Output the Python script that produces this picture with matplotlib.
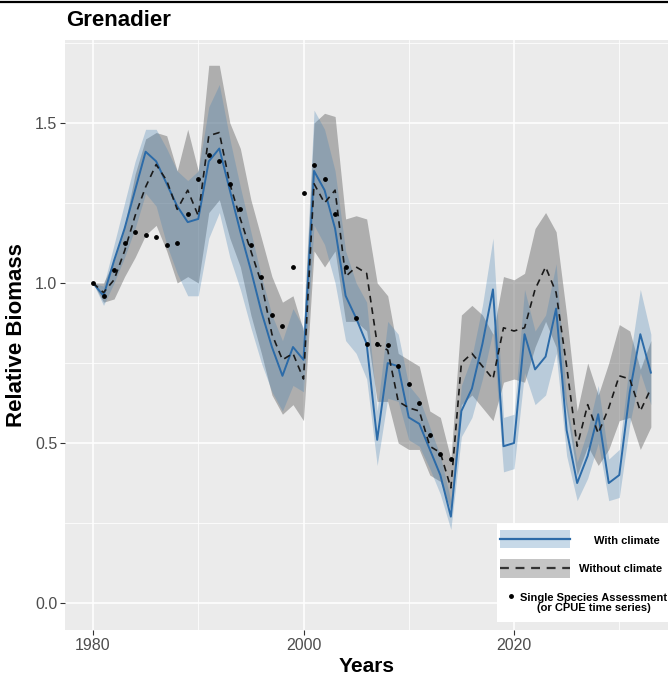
import matplotlib
matplotlib.use('Agg')
import matplotlib.pyplot as plt
from matplotlib.lines import Line2D
from matplotlib.patches import Rectangle
from matplotlib.ticker import MultipleLocator

plt.rcParams['font.family'] = ['Liberation Sans', 'DejaVu Sans']

# ---------------- data ----------------
years = list(range(1980, 2034))

with_climate = [
    1.00, 0.96, 1.07, 1.17, 1.29, 1.41, 1.38, 1.31, 1.24, 1.19,
    1.20, 1.38, 1.42, 1.29, 1.16, 1.04, 0.91, 0.80, 0.71, 0.80,
    0.76, 1.35, 1.29, 1.17, 0.96, 0.89, 0.81, 0.51, 0.75, 0.74,
    0.58, 0.56, 0.48, 0.40, 0.27, 0.60, 0.67, 0.81, 0.98, 0.49,
    0.50, 0.84, 0.73, 0.77, 0.92, 0.54, 0.375, 0.46, 0.59, 0.375,
    0.40, 0.66, 0.84, 0.72,
]
with_lo = [
    1.00, 0.93, 1.00, 1.08, 1.17, 1.28, 1.24, 1.12, 1.03, 0.96,
    0.96, 1.14, 1.22, 1.08, 0.98, 0.86, 0.75, 0.66, 0.60, 0.68,
    0.66, 1.18, 1.12, 1.00, 0.82, 0.78, 0.70, 0.43, 0.64, 0.63,
    0.51, 0.49, 0.42, 0.34, 0.23, 0.52, 0.58, 0.70, 0.85, 0.41,
    0.42, 0.72, 0.62, 0.65, 0.78, 0.46, 0.32, 0.39, 0.50, 0.32,
    0.33, 0.56, 0.72, 0.62,
]
with_hi = [
    1.00, 0.99, 1.12, 1.25, 1.38, 1.48, 1.48, 1.42, 1.35, 1.32,
    1.35, 1.55, 1.62, 1.45, 1.30, 1.16, 1.02, 0.90, 0.82, 0.92,
    0.86, 1.54, 1.48, 1.35, 1.10, 1.00, 0.94, 0.60, 0.88, 0.84,
    0.68, 0.64, 0.55, 0.46, 0.32, 0.68, 0.77, 0.93, 1.14, 0.58,
    0.59, 0.98, 0.85, 0.90, 1.06, 0.63, 0.44, 0.54, 0.68, 0.45,
    0.48, 0.76, 0.98, 0.84,
]

without_climate = [
    1.00, 0.97, 1.01, 1.10, 1.21, 1.30, 1.37, 1.32, 1.23, 1.29,
    1.21, 1.46, 1.47, 1.31, 1.20, 1.10, 1.00, 0.84, 0.76, 0.78,
    0.70, 1.31, 1.25, 1.29, 1.02, 1.05, 1.03, 0.81, 0.79, 0.63,
    0.61, 0.60, 0.49, 0.47, 0.36, 0.75, 0.78, 0.74, 0.70, 0.86,
    0.85, 0.86, 0.98, 1.05, 0.97, 0.74, 0.49, 0.62, 0.53, 0.61,
    0.71, 0.70, 0.60, 0.67,
]
without_lo = [
    1.00, 0.94, 0.95, 1.02, 1.08, 1.15, 1.18, 1.10, 1.00, 1.02,
    1.00, 1.22, 1.26, 1.14, 1.05, 0.90, 0.78, 0.65, 0.59, 0.62,
    0.57, 1.10, 1.05, 1.10, 0.88, 0.88, 0.85, 0.63, 0.63, 0.50,
    0.48, 0.48, 0.40, 0.38, 0.29, 0.62, 0.65, 0.61, 0.57, 0.69,
    0.70, 0.69, 0.80, 0.88, 0.80, 0.60, 0.40, 0.49, 0.43, 0.48,
    0.57, 0.58, 0.48, 0.55,
]
without_hi = [
    1.00, 1.00, 1.07, 1.18, 1.34, 1.45, 1.47, 1.46, 1.35, 1.48,
    1.35, 1.68, 1.68, 1.50, 1.42, 1.26, 1.14, 1.02, 0.94, 0.96,
    0.85, 1.50, 1.53, 1.52, 1.20, 1.21, 1.20, 1.00, 0.96, 0.78,
    0.76, 0.74, 0.60, 0.58, 0.45, 0.90, 0.93, 0.90, 0.84, 1.02,
    1.01, 1.03, 1.17, 1.22, 1.16, 0.90, 0.60, 0.75, 0.65, 0.75,
    0.87, 0.85, 0.73, 0.82,
]

ssa_years = list(range(1980, 2015))
ssa_values = [
    1.00, 0.96, 1.04, 1.125, 1.16, 1.15, 1.145, 1.12, 1.125, 1.215,
    1.325, 1.40, 1.38, 1.31, 1.23, 1.12, 1.02, 0.90, 0.865, 1.05,
    1.28, 1.37, 1.325, 1.215, 1.05, 0.89, 0.81, 0.81, 0.805, 0.74,
    0.685, 0.625, 0.525, 0.465, 0.45,
]

# ---------------- style ----------------
blue_line = '#2C6BA8'
blue_fill = '#4682B4'
grey_fill = '#5A5A5A'
panel_bg = '#EBEBEB'
tick_col = '#4D4D4D'

fig = plt.figure(figsize=(6.68, 6.75), dpi=100)
ax = fig.add_axes([65 / 668, 45 / 675, 603 / 668, 590 / 675])
ax.set_facecolor(panel_bg)

ax.fill_between(years, without_lo, without_hi, color=grey_fill, alpha=0.42,
                linewidth=0, zorder=2)
ax.fill_between(years, with_lo, with_hi, color=blue_fill, alpha=0.30,
                linewidth=0, zorder=3)
ax.plot(years, with_climate, color=blue_line, lw=1.4, zorder=4)
ax.plot(years, without_climate, color='#1A1A1A', lw=1.2, dashes=(4, 3),
        zorder=5)
ax.scatter(ssa_years, ssa_values, s=6, color='black', zorder=6)

ax.set_xlim(1977.34, 2034.63)
ax.set_ylim(-0.084, 1.759)
ax.xaxis.set_major_locator(MultipleLocator(20))
ax.xaxis.set_minor_locator(MultipleLocator(10))
ax.yaxis.set_major_locator(MultipleLocator(0.5))
ax.yaxis.set_minor_locator(MultipleLocator(0.25))
ax.yaxis.set_major_formatter(matplotlib.ticker.FormatStrFormatter('%.1f'))
ax.grid(which='major', color='white', lw=1.1, zorder=0)
ax.grid(which='minor', color='white', lw=0.55, zorder=0)
ax.set_axisbelow(True)
for s in ax.spines.values():
    s.set_visible(False)
ax.tick_params(which='major', length=3.5, width=0.8, color='#333333',
               labelcolor=tick_col, labelsize=11.5, pad=2)
ax.tick_params(which='minor', length=0)

ax.set_xlabel('Years', fontsize=15, fontweight='bold', labelpad=3)
ax.set_ylabel('Relative Biomass', fontsize=16, fontweight='bold', labelpad=6)

fig.text(66 / 668, 1 - 20 / 675, 'Grenadier', fontsize=16, fontweight='bold',
         ha='left', va='center')
fig.add_artist(Line2D([0, 1], [1 - 2 / 675, 1 - 2 / 675], color='black',
                      lw=1.6, transform=fig.transFigure))

# ---------------- legend (drawn in axes fraction) ----------------
tr = ax.transAxes
ax.add_patch(Rectangle((0.716, 0.013), 0.30, 0.168, transform=tr,
                       facecolor='white', edgecolor='none', zorder=7,
                       clip_on=False))
ax.add_patch(Rectangle((0.722, 0.139), 0.116, 0.031, transform=tr,
                       facecolor=blue_fill, alpha=0.30, edgecolor='none',
                       zorder=8))
ax.add_line(Line2D([0.722, 0.838], [0.1545, 0.1545], transform=tr,
                   color=blue_line, lw=1.6, zorder=9))
ax.text(0.987, 0.151, 'With climate', transform=tr, ha='right', va='center',
        fontsize=8, fontweight='bold', zorder=9)
ax.add_patch(Rectangle((0.722, 0.088), 0.116, 0.033, transform=tr,
                       facecolor=grey_fill, alpha=0.35, edgecolor='none',
                       zorder=8))
ax.add_line(Line2D([0.722, 0.838], [0.1045, 0.1045], transform=tr,
                   color='#333333', lw=1.6, dashes=(4, 3), zorder=9))
ax.text(0.99, 0.103, 'Without climate', transform=tr, ha='right',
        va='center', fontsize=8, fontweight='bold', zorder=9)
ax.plot([0.739], [0.058], 'o', color='black', ms=2.5, transform=tr,
        zorder=9, clip_on=False)
ax.text(0.877, 0.046, 'Single Species Assessment\n(or CPUE time series)',
        transform=tr, ha='center', va='center', fontsize=8,
        fontweight='bold', linespacing=0.95, zorder=9, clip_on=False)

fig.savefig('out.png', dpi=100)
